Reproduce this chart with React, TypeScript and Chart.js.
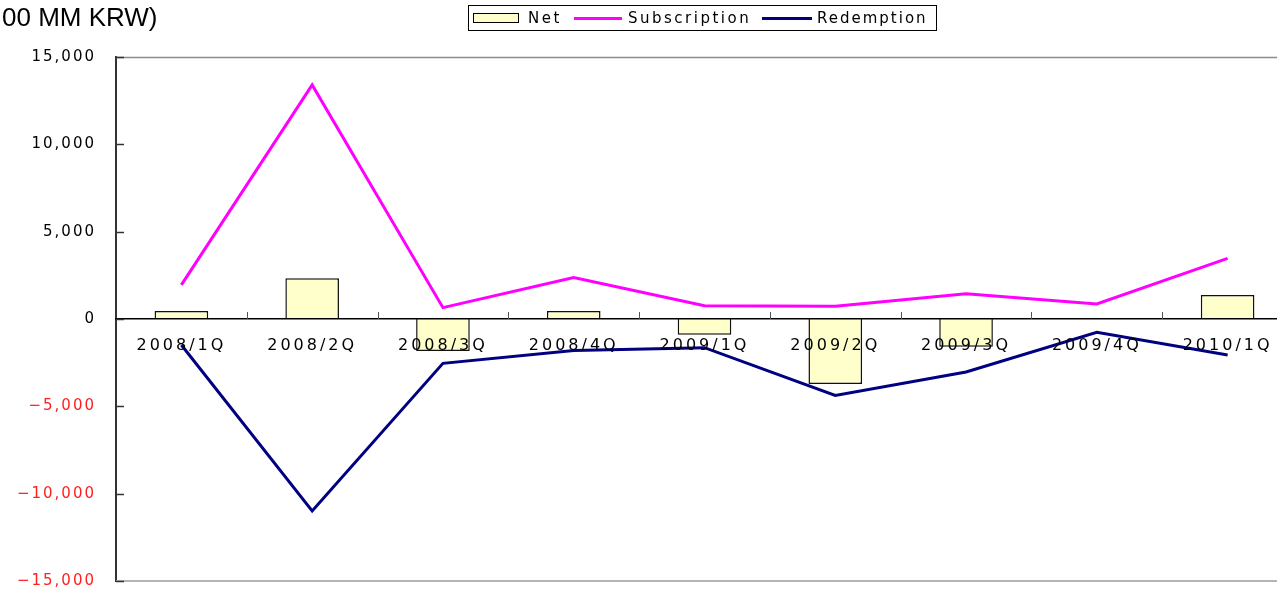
import React, { useEffect, useRef } from 'react';
import { Chart, registerables } from 'chart.js';

Chart.register(...registerables);

const categories = ['2008/1Q', '2008/2Q', '2008/3Q', '2008/4Q', '2009/1Q', '2009/2Q', '2009/3Q', '2009/4Q', '2010/1Q'];
const netValues = [460, 2330, -1830, 460, -900, -3720, -1590, 0, 1370];
const subscriptionValues = [1950, 13400, 650, 2370, 760, 730, 1450, 860, 3470];
const redemptionValues = [-1490, -10990, -2540, -1800, -1640, -4380, -3030, -760, -2060];
const yTicks = [-15000, -10000, -5000, 0, 5000, 10000, 15000];
const unitTitle = '00 MM KRW)';

const FONT = '"DejaVu Sans", sans-serif';
const TITLE_FONT = '"Liberation Sans", Arial, sans-serif';

const fmt = (v: number) => {
  const s = Math.abs(v).toLocaleString('en-US');
  return v < 0 ? '\u2212' + s : s;
};

const decor = {
  id: 'decor',
  beforeLayout(chart: any) {
    chart.ctx.letterSpacing = '2px';
  },
  beforeDraw(chart: any) {
    chart.ctx.letterSpacing = '2px';
  },
  afterDatasetsDraw(chart: any) {
    chart.ctx.letterSpacing = '3px';
  },
  afterDraw(chart: any) {
    const ctx = chart.ctx as CanvasRenderingContext2D;
    const { left, right, top, bottom } = chart.chartArea;
    const y = chart.scales.y;
    const x = chart.scales.x;
    const zero = y.getPixelForValue(0);
    ctx.save();
    (ctx as any).letterSpacing = '0px';
    // top border
    ctx.strokeStyle = '#8c8c8c';
    ctx.lineWidth = 1.5;
    ctx.beginPath();
    ctx.moveTo(left, top + 0.5);
    ctx.lineTo(right, top + 0.5);
    ctx.stroke();
    // bottom border
    ctx.strokeStyle = '#b4b4b4';
    ctx.lineWidth = 2;
    ctx.beginPath();
    ctx.moveTo(left, bottom);
    ctx.lineTo(right, bottom);
    ctx.stroke();
    // y-axis inward ticks
    ctx.strokeStyle = '#333';
    ctx.lineWidth = 1.5;
    yTicks.forEach((v) => {
      const py = Math.round(y.getPixelForValue(v)) + 0.5;
      ctx.beginPath();
      ctx.moveTo(left, py);
      ctx.lineTo(left + 8, py);
      ctx.stroke();
    });
    // x-axis upward ticks at category boundaries
    ctx.strokeStyle = '#555';
    ctx.lineWidth = 1;
    for (let i = 1; i <= categories.length; i++) {
      const px = Math.round((x.getPixelForValue(i - 1) + x.getPixelForValue(i)) / 2) + 0.5;
      const bx = i === categories.length ? right - 0.5 : px;
      ctx.beginPath();
      ctx.moveTo(bx, zero);
      ctx.lineTo(bx, zero - 7);
      ctx.stroke();
    }
    // title
    ctx.fillStyle = '#000';
    ctx.font = '26px ' + TITLE_FONT;
    ctx.textBaseline = 'alphabetic';
    ctx.textAlign = 'left';
    ctx.fillText(unitTitle, 2, 26);
    // legend box
    ctx.strokeStyle = '#000';
    ctx.lineWidth = 1;
    ctx.strokeRect(468.5, 5.5, 468, 25);
    const ds = chart.data.datasets;
    ctx.fillStyle = ds[0].backgroundColor;
    ctx.fillRect(473.5, 13.5, 45, 9);
    ctx.strokeRect(473.5, 13.5, 45, 9);
    ctx.lineWidth = 3;
    ctx.strokeStyle = ds[1].borderColor;
    ctx.beginPath();
    ctx.moveTo(574, 18.5);
    ctx.lineTo(622, 18.5);
    ctx.stroke();
    ctx.strokeStyle = ds[2].borderColor;
    ctx.beginPath();
    ctx.moveTo(762, 18.5);
    ctx.lineTo(812, 18.5);
    ctx.stroke();
    ctx.fillStyle = '#000';
    ctx.font = '15px ' + FONT;
    ctx.textBaseline = 'middle';
    (ctx as any).letterSpacing = '2.5px';
    ctx.fillText(ds[0].label, 528, 19);
    ctx.fillText(ds[1].label, 628, 19);
    (ctx as any).letterSpacing = '2px';
    ctx.fillText(ds[2].label, 817, 19);
    ctx.restore();
  },
};

export default function App() {
  const ref = useRef<HTMLCanvasElement | null>(null);
  useEffect(() => {
    if (!ref.current) return;
    const chart = new Chart(ref.current, {
      type: 'bar',
      data: {
        labels: categories,
        datasets: [
          {
            type: 'bar',
            label: 'Net',
            data: netValues,
            backgroundColor: '#ffffcc',
            borderColor: '#111',
            borderWidth: 1.5,
            barPercentage: 0.41,
            categoryPercentage: 1,
            order: 3,
          },
          {
            type: 'line',
            label: 'Subscription',
            data: subscriptionValues,
            borderColor: '#ff00ff',
            backgroundColor: '#ff00ff',
            borderWidth: 3,
            pointRadius: 0,
            tension: 0,
            order: 2,
          },
          {
            type: 'line',
            label: 'Redemption',
            data: redemptionValues,
            borderColor: '#000080',
            backgroundColor: '#000080',
            borderWidth: 3,
            pointRadius: 0,
            tension: 0,
            order: 1,
          },
        ] as any,
      },
      options: {
        responsive: false,
        animation: false,
        devicePixelRatio: 1,
        layout: { padding: { left: 0, top: 57, right: 17, bottom: 8 } },
        plugins: { legend: { display: false }, tooltip: { enabled: false } },
        scales: {
          x: {
            position: { y: 0 } as any,
            offset: true,
            afterFit: (scale: any) => {
              scale.height = 0;
              scale.paddingTop = 0;
              scale.paddingBottom = 0;
            },
            grid: { display: true, drawOnChartArea: false, drawTicks: false, offset: true },
            border: { display: true, color: '#000', width: 1.5, z: 1 },
            ticks: {
              z: 1,
              color: '#000',
              padding: 17,
              autoSkip: false,
              maxRotation: 0,
              font: { family: FONT, size: 16 },
            },
          },
          y: {
            position: 'left',
            min: -15000,
            max: 15000,
            afterBuildTicks: (scale: any) => {
              scale.ticks = yTicks.map((v) => ({ value: v }));
            },
            afterFit: (scale: any) => {
              scale.width = 116;
              scale.paddingTop = 0;
              scale.paddingBottom = 0;
            },
            grid: { display: false, drawTicks: false },
            border: { display: true, color: '#333', width: 2 },
            ticks: {
              padding: 20,
              color: (c: any) => (c.tick && c.tick.value < 0 ? '#ff1f1f' : '#000'),
              font: { family: FONT, size: 15 },
              callback: (v: any) => fmt(Number(v)),
            },
          },
        },
      },
      plugins: [decor],
    });
    return () => chart.destroy();
  }, []);
  return (
    <div style={{ position: 'fixed', left: 0, top: 0, width: 1277, height: 589, overflow: 'hidden', background: '#fff' }}>
      <canvas ref={ref} width={1310} height={589} style={{ display: 'block', width: 1310, height: 589 }} />
    </div>
  );
}
